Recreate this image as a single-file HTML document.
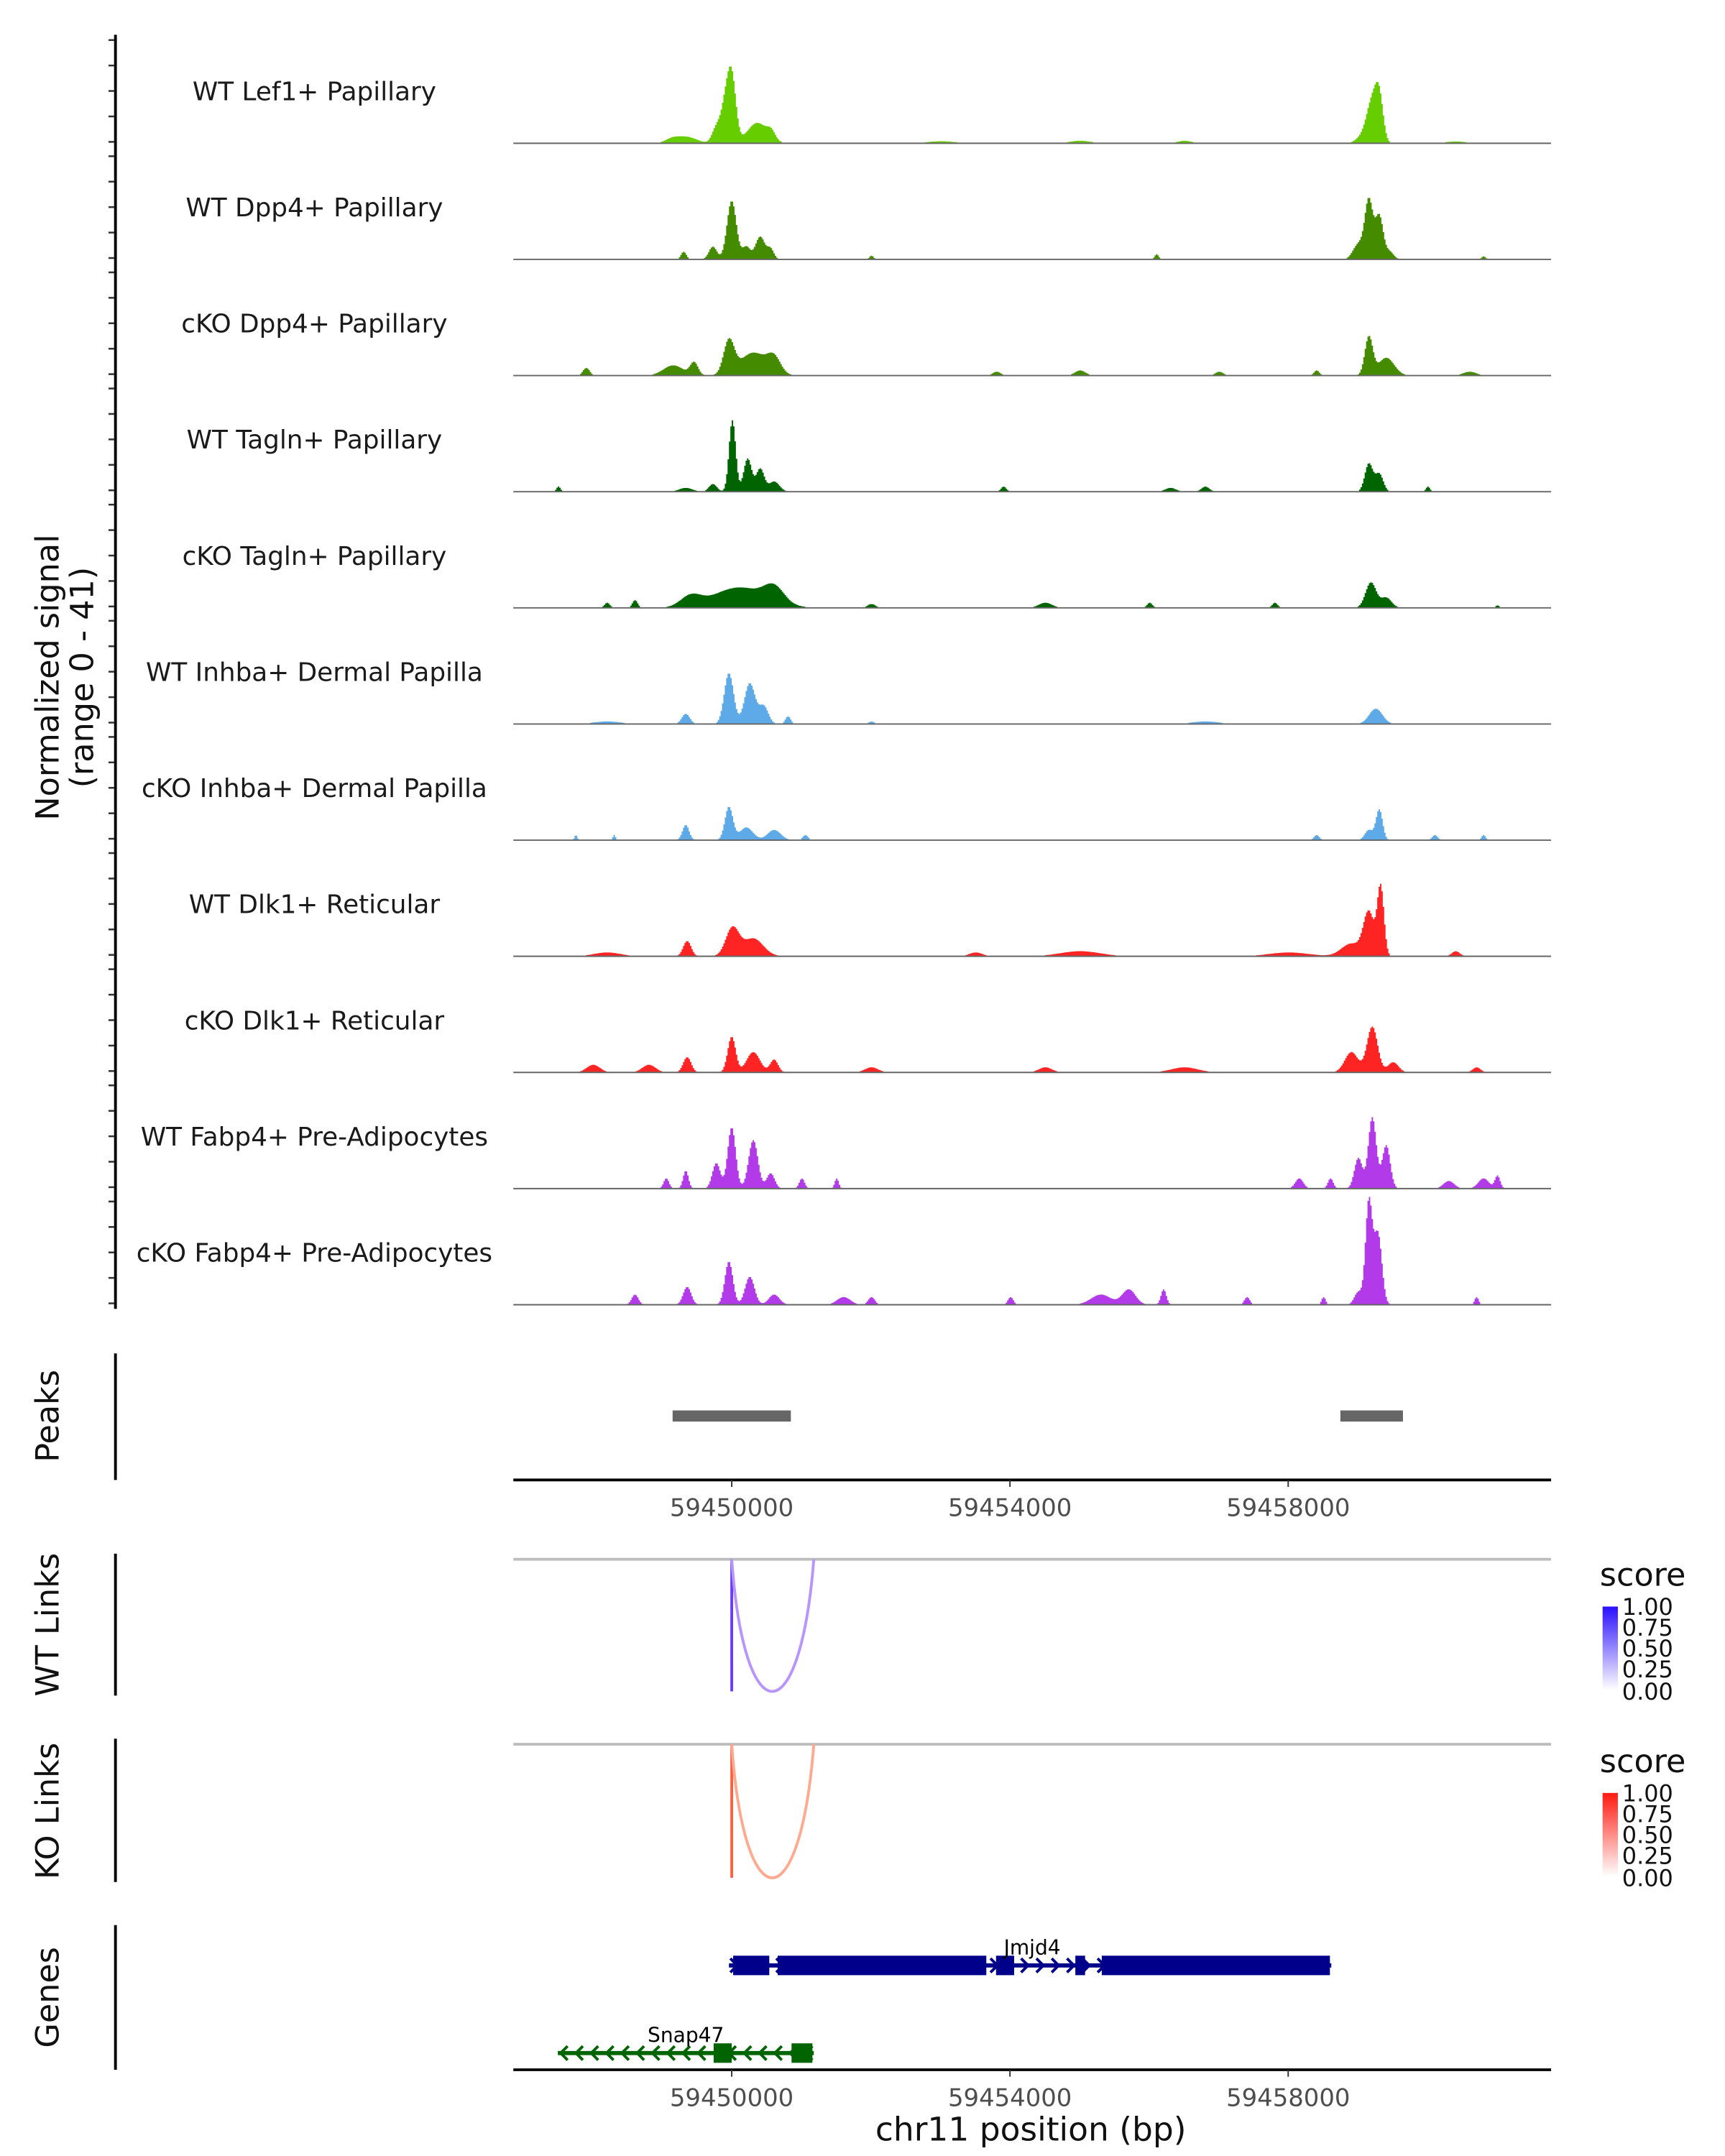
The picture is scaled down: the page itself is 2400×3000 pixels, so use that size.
<!DOCTYPE html>
<html><head><meta charset="utf-8"><style>html,body{margin:0;padding:0;background:#fff}svg{display:block}text{font-family:"DejaVu Sans","Liberation Sans",sans-serif}</style></head>
<body>
<svg id="chart" xmlns="http://www.w3.org/2000/svg" width="2400" height="3000" viewBox="0 0 1240 1550">
<rect width="1240" height="1550" fill="#fff"/>
<g id="tracks"></g>
<g id="leftaxis"></g>
<text transform="translate(42,487) rotate(-90)" text-anchor="middle" font-size="23" fill="#111">Normalized signal</text>
<text transform="translate(67,487) rotate(-90)" text-anchor="middle" font-size="23" fill="#111">(range 0 - 41)</text>
<g>
<line x1="83" y1="973" x2="83" y2="1064" stroke="#000" stroke-width="2"/>
<text transform="translate(42,1018) rotate(-90)" text-anchor="middle" font-size="23" fill="#111">Peaks</text>
<g id="peaks"></g>
<g id="axis1"></g>
</g>
<g>
<line x1="83" y1="1117" x2="83" y2="1219" stroke="#000" stroke-width="2"/>
<text transform="translate(42,1168) rotate(-90)" text-anchor="middle" font-size="23" fill="#111">WT Links</text>
<line x1="369" y1="1121" x2="1115" y2="1121" stroke="#bdbdbd" stroke-width="2"/>
<g id="wtlinks"></g>
</g>
<g>
<line x1="83" y1="1250" x2="83" y2="1353" stroke="#000" stroke-width="2"/>
<text transform="translate(42,1302) rotate(-90)" text-anchor="middle" font-size="23" fill="#111">KO Links</text>
<line x1="369" y1="1254" x2="1115" y2="1254" stroke="#bdbdbd" stroke-width="2"/>
<g id="kolinks"></g>
</g>
<defs>
<linearGradient id="gb" x1="0" y1="1" x2="0" y2="0"><stop offset="0" stop-color="#fff"/><stop offset="1" stop-color="#2a10ff"/></linearGradient>
<linearGradient id="gr" x1="0" y1="1" x2="0" y2="0"><stop offset="0" stop-color="#fff"/><stop offset="1" stop-color="#ff1a10"/></linearGradient>
</defs>
<g>
<text x="1150" y="1140" font-size="23" fill="#111">score</text>
<rect x="1152" y="1155" width="11" height="60" fill="url(#gb)"/>
<g font-size="16.5" fill="#111"><text x="1166" y="1161">1.00</text><text x="1166" y="1176">0.75</text><text x="1166" y="1191">0.50</text><text x="1166" y="1206">0.25</text><text x="1166" y="1222">0.00</text></g>
</g>
<g>
<text x="1150" y="1274" font-size="23" fill="#111">score</text>
<rect x="1152" y="1289" width="11" height="60" fill="url(#gr)"/>
<g font-size="16.5" fill="#111"><text x="1166" y="1295">1.00</text><text x="1166" y="1310">0.75</text><text x="1166" y="1325">0.50</text><text x="1166" y="1340">0.25</text><text x="1166" y="1356">0.00</text></g>
</g>
<g>
<line x1="83" y1="1384" x2="83" y2="1488" stroke="#000" stroke-width="2"/>
<text transform="translate(42,1436) rotate(-90)" text-anchor="middle" font-size="23" fill="#111">Genes</text>
<g id="genes"></g>
<g id="axis2"></g>
<text x="741" y="1539" text-anchor="middle" font-size="23.5" fill="#111">chr11 position (bp)</text>
</g>
</svg>
<script>
const trackNames=["WT Lef1+ Papillary","WT Dpp4+ Papillary","cKO Dpp4+ Papillary","WT Tagln+ Papillary","cKO Tagln+ Papillary","WT Inhba+ Dermal Papilla","cKO Inhba+ Dermal Papilla","WT Dlk1+ Reticular","cKO Dlk1+ Reticular","WT Fabp4+ Pre-Adipocytes","cKO Fabp4+ Pre-Adipocytes"];
const trackColors=["#66cd00","#458b00","#458b00","#006400","#006400","#5eaae8","#5eaae8","#ff2424","#ff2424","#b23ae8","#b23ae8"];
// peaks: [position bp, signal value, half-width bp]
const pLef1=[[59449920,19,80],[59450000,17,60],[59449760,5,60],[59450360,8,150],[59450560,3,60],[59449340,2.5,150],[59449130,1.5,100],[59459080,3,100],[59459200,15,80],[59459300,16,60],[59455000,1,150],[59453000,0.8,200],[59456500,1,100],[59460400,0.7,150]];
const pDpp4=[[59449990,23,70],[59449720,5,60],[59450400,9,70],[59450550,4,50],[59450200,5,60],[59449300,3,40],[59459150,23,60],[59459300,17,60],[59459000,6,80],[59459450,3,60],[59452000,1.5,30],[59456100,2,30],[59460800,1.2,30]];
const pDpp4K=[[59449950,13,80],[59450300,9,200],[59450600,6,100],[59449150,4,150],[59449450,5,60],[59447900,3,50],[59459150,15,60],[59459400,7,120],[59453800,1.5,60],[59455000,2,80],[59457000,1.5,60],[59458400,2,40],[59460600,1.5,100]];
const pTagln=[[59450000,28,50],[59450220,13,60],[59450400,9,60],[59449720,3,60],[59450600,4,80],[59449330,1.5,100],[59447500,2,30],[59459150,11,60],[59459300,7,60],[59456800,2,60],[59456300,1.5,80],[59453900,2,40],[59460000,2,30]];
const pTaglnK=[[59450100,8,400],[59450600,6,150],[59449400,4,150],[59448600,3,40],[59448200,2,40],[59459180,10,80],[59459400,4,80],[59454500,2,100],[59456000,2,40],[59452000,1.5,60],[59457800,2,40],[59461000,1,30]];
const pInhba=[[59449950,20,70],[59450250,16,80],[59450450,7,70],[59449330,4,60],[59450800,3,40],[59459250,6,100],[59448200,1,200],[59452000,1,40],[59456800,1,200]];
const pInhbaK=[[59449950,13,60],[59450200,5,100],[59450600,4,100],[59449330,6,50],[59451050,2,40],[59459300,12,50],[59459150,4,60],[59447750,2,20],[59448300,2,20],[59458400,2,40],[59460100,2,40],[59460800,2,30]];
const pDlk1=[[59450000,11,100],[59450300,7,150],[59449350,6,60],[59459320,27,50],[59459150,17,80],[59458900,5,150],[59455000,2,300],[59458000,1.5,300],[59453500,1.5,100],[59448200,1.5,200],[59460400,2,60]];
const pDlk1K=[[59449990,14,60],[59450300,8,100],[59450600,5,60],[59449350,6,60],[59448800,3,100],[59448000,3,100],[59459200,18,80],[59458900,8,100],[59459500,4,80],[59452000,2,100],[59456500,2,200],[59454500,2,100],[59460700,2,60]];
const pFabp4=[[59449990,24,60],[59450300,19,70],[59449770,10,60],[59450550,6,60],[59449330,7,40],[59449050,4,40],[59451000,4,40],[59451500,4,30],[59459200,28,60],[59459400,17,60],[59459000,12,60],[59458600,4,40],[59458150,4,60],[59460300,3,80],[59460800,4,80],[59461000,5,40]];
const pFabp4K=[[59449950,17,60],[59450250,11,70],[59449350,7,60],[59448600,4,50],[59450600,4,80],[59451600,3,100],[59452000,3,50],[59455700,6,100],[59455300,4,150],[59456200,6,40],[59454000,3,40],[59459150,40,50],[59459280,28,60],[59459000,5,60],[59458500,3,30],[59460700,3,30],[59457400,3,40]];
const trackPeaks=[pLef1,pDpp4,pDpp4K,pTagln,pTaglnK,pInhba,pInhbaK,pDlk1,pDlk1K,pFabp4,pFabp4K];
const peakRegions=[[59449150,59450850],[59458750,59459650]];
const xTicks=[59450000,59454000,59458000];
const linkStarts=[59450000];
const linkEnds=[59451200];
const xMin=59446860,xMax=59461780,X0=369,X1=1115;
function x(bp){return X0+(bp-xMin)/(xMax-xMin)*(X1-X0);}
const NS="http://www.w3.org/2000/svg";
function mk(tag,attrs,parent){const e=document.createElementNS(NS,tag);for(const k in attrs)e.setAttribute(k,attrs[k]);parent.appendChild(e);return e;}
const yScale=1.83, base0=103, step=83.5, widen=1.35;
const tg=document.getElementById('tracks');
trackNames.forEach((name,i)=>{
  const b=base0+i*step;
  const g=mk('g',{},tg);
  
  
  const t=mk('text',{x:226,y:b-31,'text-anchor':'middle','font-size':'18.5',fill:'#1a1a1a'},g);
  t.textContent=name;
  
  
  let d='M'+X0+','+b;
  for(let px=X0;px<=X1;px+=1){
    const bp=xMin+(px-X0)/(X1-X0)*(xMax-xMin);
    let v=0;
    trackPeaks[i].forEach(p=>{const dd=(bp-p[0])/(p[2]*widen);v+=p[1]*Math.exp(-dd*dd);});
    if(v<0.4)v=0;
    const h=Math.min(v*yScale,80);
    d+=' L'+px+','+(b-h).toFixed(1)+' L'+(px+1)+','+(b-h).toFixed(1);
  }
  d+=' L'+X1+','+b+' Z';
  const a=mk('path',{d:d,fill:trackColors[i]},g);
  
  
  mk('line',{x1:X0,y1:b,x2:X1,y2:b,stroke:'#666','stroke-width':1},g);
});
const la=document.getElementById('leftaxis');
mk('line',{x1:83,y1:25,x2:83,y2:941,stroke:'#000','stroke-width':2},la);
for(let i=0;i<11;i++){const b=base0+i*step;for(let k=0;k<5;k++){const y=b-1-k*18.3;mk('line',{x1:78,y1:y,x2:82,y2:y,stroke:'#333','stroke-width':1.3},la);}}
const pk=document.getElementById('peaks');
peakRegions.forEach(r=>{const e=mk('rect',{x:x(r[0]),y:1014,width:x(r[1])-x(r[0]),height:8,fill:'#666'},pk);

});
function axis(id,y){const g=document.getElementById(id);
mk('line',{x1:X0,y1:y,x2:X1,y2:y,stroke:'#000','stroke-width':2},g);
xTicks.forEach(t=>{mk('line',{x1:x(t),y1:y,x2:x(t),y2:y+5,stroke:'#333','stroke-width':1},g);
const tx=mk('text',{x:x(t),y:y+26,'text-anchor':'middle','font-size':'17.5',fill:'#4d4d4d'},g);tx.textContent=t;});}
axis('axis1',1064);axis('axis2',1488);
function links(id,top,bot,cv,ca){const g=document.getElementById(id);
linkStarts.forEach((s,i)=>{const x1=x(s),x2=x(linkEnds[i]);
const v=mk('line',{x1:x1,y1:top,x2:x1,y2:bot,stroke:cv,'stroke-width':2},g);


const ybez=(bot-0.25*top)/0.75;
const p=mk('path',{d:`M${x1},${top} C${x1+9},${ybez} ${x1+49},${ybez} ${x1+59},${top}`,fill:'none',stroke:ca,'stroke-width':2},g);

});}
links('wtlinks',1121,1216,'#6a3cff','#b894ff');
links('kolinks',1254,1350,'#ff6040','#ffaa90');
const gg=document.getElementById('genes');
function gene(name,y,col,l,r,exons,dir,lx){const g=mk('g',{},gg);


mk('line',{x1:l,y1:y,x2:r,y2:y,stroke:col,'stroke-width':3},g);
for(let cx=l+4;cx<r;cx+=11){const d=dir>0?`M${cx-3},${y-5} L${cx+2},${y} L${cx-3},${y+5}`:`M${cx+3},${y-5} L${cx-2},${y} L${cx+3},${y+5}`;mk('path',{d:d,fill:'none',stroke:col,'stroke-width':2},g);}
exons.forEach(e=>mk('rect',{x:e[0],y:y-7,width:e[1]-e[0],height:14,fill:col},g));
const t=mk('text',{x:lx,y:y-8,'text-anchor':'middle','font-size':'14.5',fill:'#000'},g);t.textContent=name;}
gene('Jmjd4',1413,'#00008b',524,957,[[527,553],[559,709],[716,729],[773,780],[792,956]],1,742);
gene('Snap47',1476,'#006400',401,585,[[513,526],[569,584]],-1,493);
</script>
</body></html>
